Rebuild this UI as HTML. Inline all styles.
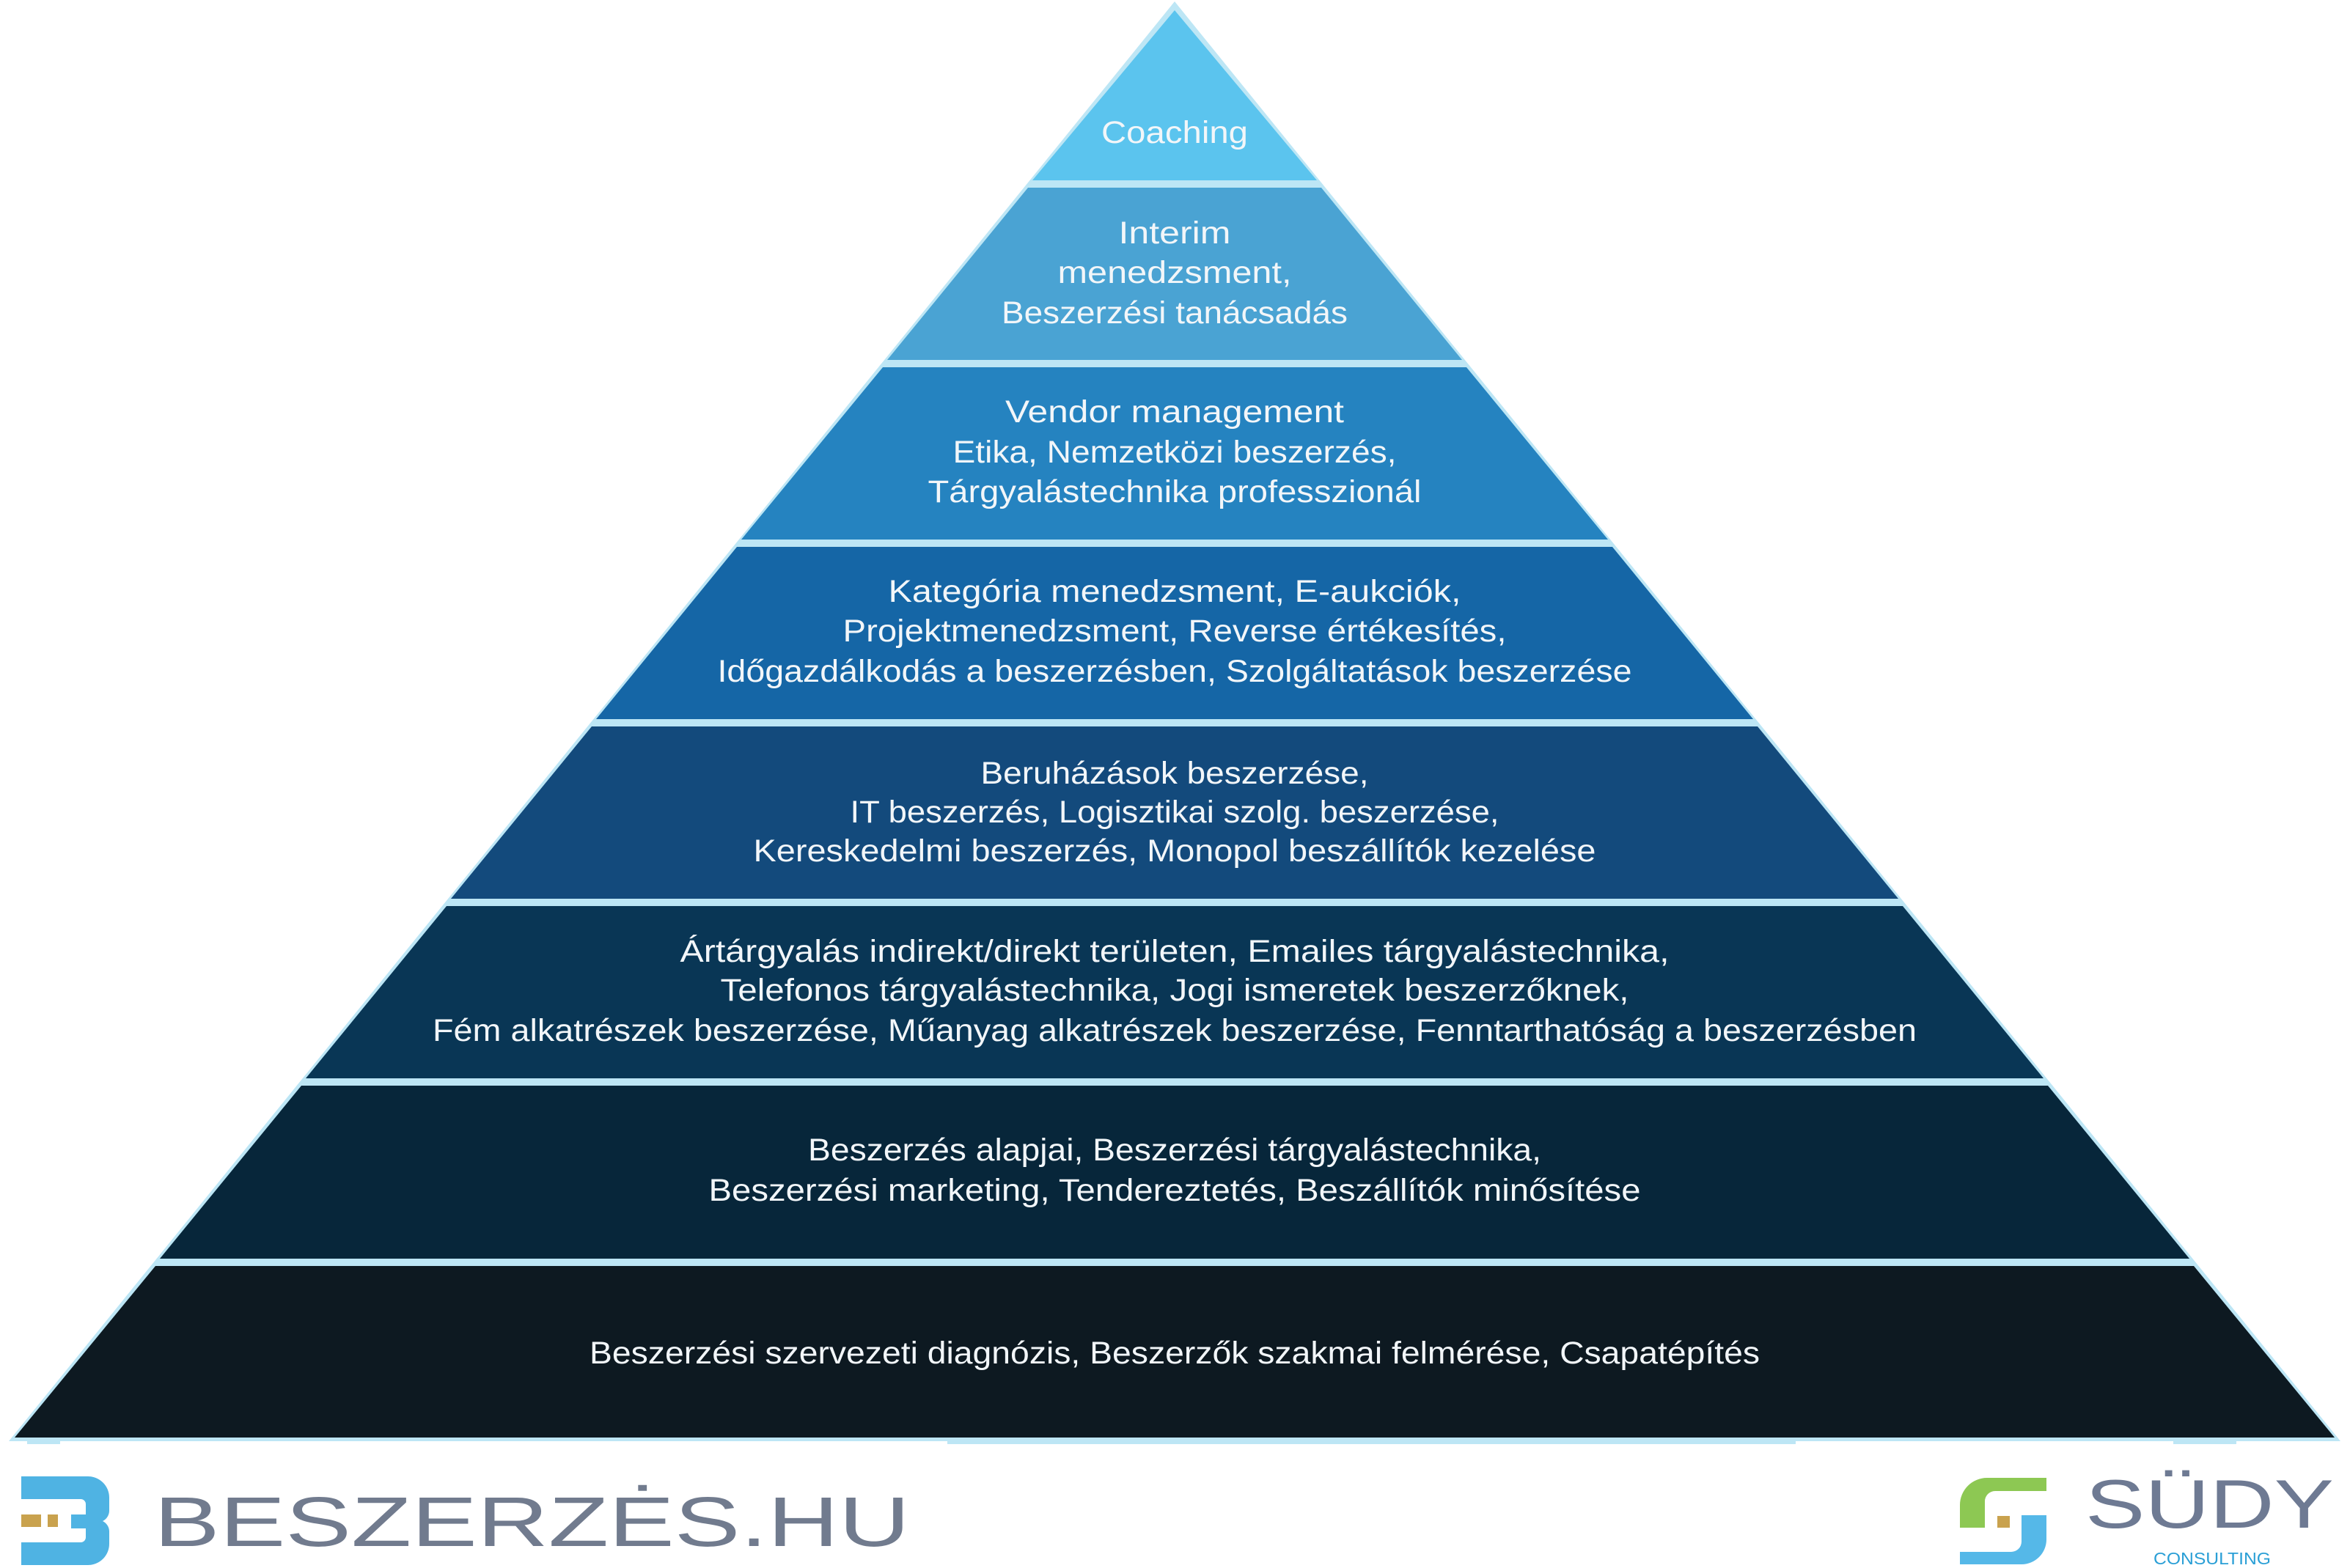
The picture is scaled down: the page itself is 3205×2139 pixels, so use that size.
<!DOCTYPE html>
<html><head><meta charset="utf-8"><style>
html,body{margin:0;padding:0;background:#fff;}
svg{display:block;}
text{font-family:"Liberation Sans",sans-serif;fill:#f2f6f9;}
</style></head><body>
<svg width="3205" height="2139" viewBox="0 0 3205 2139" xmlns="http://www.w3.org/2000/svg">
<!-- light strips under base -->
<rect x="37" y="1958" width="45" height="12" fill="#bde6f5"/>
<rect x="1292" y="1958" width="1157" height="12" fill="#bde6f5"/>
<rect x="2964" y="1958" width="86" height="12" fill="#bde6f5"/>
<!-- outline triangle -->
<polygon points="1602,2 3192,1966 12,1966" fill="#bde6f5"/>
<!-- layers: y boundaries 251,496,741,986,1231,1476,1722,1964; x = 1602 ± 0.81*(y-6) -->
<g>
<polygon points="1602,14 1796,246 1408,246" fill="#5bc4ee"/>
<polygon points="1402,256 1802,256 1994,491 1210,491" fill="#4aa3d3"/>
<polygon points="1204,501 2000,501 2193,736 1011,736" fill="#2583c0"/>
<polygon points="1005,746 2199,746 2391,981 813,981" fill="#1566a6"/>
<polygon points="807,991 2397,991 2589,1226 615,1226" fill="#134a7c"/>
<polygon points="609,1236 2595,1236 2787,1471 417,1471" fill="#093655"/>
<polygon points="411,1481 2793,1481 2986,1717 218,1717" fill="#07263a"/>
<polygon points="212,1727 2992,1727 3184,1961 20,1961" fill="#0d1921"/>
</g>
<g text-anchor="middle" font-size="43">
<text x="1602" y="195" textLength="200" lengthAdjust="spacingAndGlyphs">Coaching</text>
<text x="1602" y="332" textLength="153" lengthAdjust="spacingAndGlyphs">Interim</text>
<text x="1602" y="386" textLength="319" lengthAdjust="spacingAndGlyphs">menedzsment,</text>
<text x="1602" y="441" textLength="472" lengthAdjust="spacingAndGlyphs">Beszerzési tanácsadás</text>
<text x="1602" y="576" textLength="462" lengthAdjust="spacingAndGlyphs">Vendor management</text>
<text x="1602" y="631" textLength="605" lengthAdjust="spacingAndGlyphs">Etika, Nemzetközi beszerzés,</text>
<text x="1602" y="685" textLength="673" lengthAdjust="spacingAndGlyphs">Tárgyalástechnika professzionál</text>
<text x="1602" y="821" textLength="781" lengthAdjust="spacingAndGlyphs">Kategória menedzsment,  E-aukciók,</text>
<text x="1602" y="875" textLength="905" lengthAdjust="spacingAndGlyphs">Projektmenedzsment, Reverse értékesítés,</text>
<text x="1602" y="930" textLength="1247" lengthAdjust="spacingAndGlyphs">Időgazdálkodás a beszerzésben, Szolgáltatások beszerzése</text>
<text x="1602" y="1069" textLength="529" lengthAdjust="spacingAndGlyphs">Beruházások beszerzése,</text>
<text x="1602" y="1122" textLength="885" lengthAdjust="spacingAndGlyphs">IT beszerzés, Logisztikai szolg. beszerzése,</text>
<text x="1602" y="1175" textLength="1149" lengthAdjust="spacingAndGlyphs">Kereskedelmi beszerzés, Monopol beszállítók kezelése</text>
<text x="1602" y="1312" textLength="1349" lengthAdjust="spacingAndGlyphs">Ártárgyalás indirekt/direkt területen, Emailes tárgyalástechnika,</text>
<text x="1602" y="1365" textLength="1239" lengthAdjust="spacingAndGlyphs">Telefonos tárgyalástechnika, Jogi ismeretek beszerzőknek,</text>
<text x="1602" y="1420" textLength="2024" lengthAdjust="spacingAndGlyphs">Fém alkatrészek beszerzése, Műanyag alkatrészek beszerzése, Fenntarthatóság a beszerzésben</text>
<text x="1602" y="1583" textLength="1000" lengthAdjust="spacingAndGlyphs">Beszerzés alapjai, Beszerzési tárgyalástechnika,</text>
<text x="1602" y="1638" textLength="1271" lengthAdjust="spacingAndGlyphs">Beszerzési marketing, Tendereztetés, Beszállítók minősítése</text>
<text x="1602" y="1860" textLength="1596" lengthAdjust="spacingAndGlyphs">Beszerzési szervezeti diagnózis, Beszerzők szakmai felmérése, Csapatépítés</text>
</g>
<!-- Beszerzes.hu logo -->
<g fill="#4fb3e3">
<path d="M29,2014 H120 A29,29 0 0 1 149,2043 V2060 A16,16 0 0 1 140,2075 A16,16 0 0 1 149,2090 V2106 A29,29 0 0 1 120,2135 H29 V2104 H110 A7,7 0 0 0 117,2097 V2085 H97 V2066 H117 V2052 A7,7 0 0 0 110,2045 H29 Z"/>
</g>
<rect x="29" y="2066" width="27" height="17" fill="#c9a24e"/>
<rect x="65" y="2066" width="14" height="17" fill="#c9a24e"/>
<text x="210" y="2109" font-size="96" textLength="1031" lengthAdjust="spacingAndGlyphs" style="fill:#717b8e">BESZERZĖS.HU</text>
<!-- Sudy logo -->
<path d="M2791,2016 H2710 A37,37 0 0 0 2673,2053 V2084 H2707 V2048 A14,14 0 0 1 2721,2034 H2791 Z" fill="#8dc853"/>
<path d="M2757,2067 H2791 V2100 A34,34 0 0 1 2757,2134 H2673 V2117 H2743 A14,14 0 0 0 2757,2103 Z" fill="#55b8e8"/>
<rect x="2724" y="2068" width="17" height="16" fill="#c9a24e"/>
<text x="2844" y="2084" font-size="94" textLength="339" lengthAdjust="spacingAndGlyphs" style="fill:#6e7a93">SÜDY</text>
<text x="2937" y="2134" font-size="23" textLength="160" lengthAdjust="spacingAndGlyphs" style="fill:#2a9fd6">CONSULTING</text>
</svg>
</body></html>
